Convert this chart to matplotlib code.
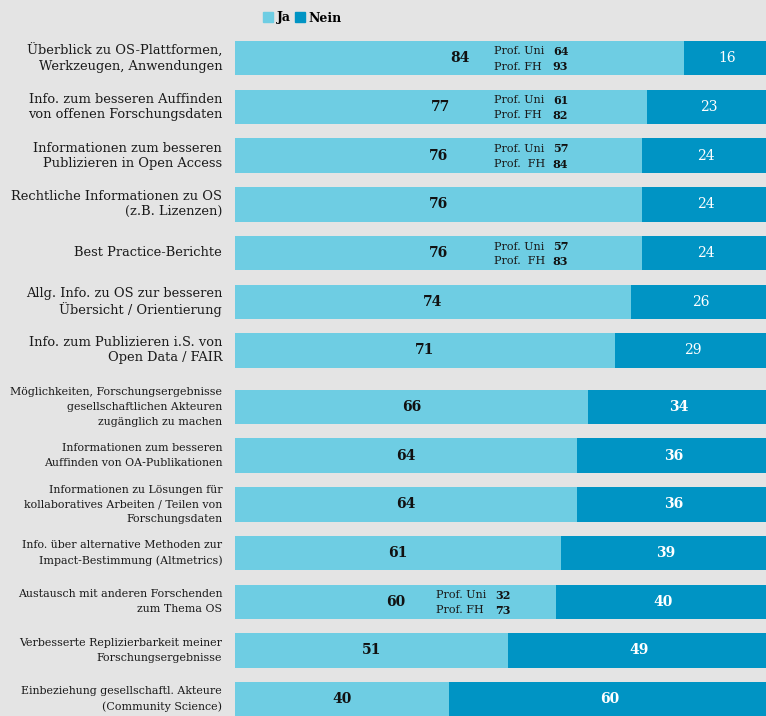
import matplotlib
matplotlib.use("Agg")
import matplotlib.pyplot as plt
from matplotlib.patches import Patch

plt.rcParams['font.family'] = 'DejaVu Serif'

# survey answers in percent
categories = [
    "Überblick zu OS-Plattformen,\nWerkzeugen, Anwendungen",
    "Info. zum besseren Auffinden\nvon offenen Forschungsdaten",
    "Informationen zum besseren\nPublizieren in Open Access",
    "Rechtliche Informationen zu OS\n(z.B. Lizenzen)",
    "Best Practice-Berichte",
    "Allg. Info. zu OS zur besseren\nÜbersicht / Orientierung",
    "Info. zum Publizieren i.S. von\nOpen Data / FAIR",
    "Möglichkeiten, Forschungsergebnisse\ngesellschaftlichen Akteuren\nzugänglich zu machen",
    "Informationen zum besseren\nAuffinden von OA-Publikationen",
    "Informationen zu Lösungen für\nkollaboratives Arbeiten / Teilen von\nForschungsdaten",
    "Info. über alternative Methoden zur\nImpact-Bestimmung (Altmetrics)",
    "Austausch mit anderen Forschenden\nzum Thema OS",
    "Verbesserte Replizierbarkeit meiner\nForschungsergebnisse",
    "Einbeziehung gesellschaftl. Akteure\n(Community Science)",
]
ja = [84, 77, 76, 76, 76, 74, 71, 66, 64, 64, 61, 60, 51, 40]
nein = [16, 23, 24, 24, 24, 26, 29, 34, 36, 36, 39, 40, 49, 60]

# breakdown by type of university (row index -> values)
prof_uni = {0: 64, 1: 61, 2: 57, 4: 57, 11: 32}
prof_fh = {0: 93, 1: 82, 2: 84, 4: 83, 11: 73}
fh_label = {0: "Prof. FH", 1: "Prof. FH", 2: "Prof.  FH", 4: "Prof.  FH", 11: "Prof. FH"}

c_ja = '#6ecde3'
c_nein = '#0094c4'
bg = '#e4e4e4'

fig = plt.figure(figsize=(7.66, 7.16), dpi=100)
fig.patch.set_facecolor(bg)
ax = fig.add_axes([0, 0, 1, 1])
ax.set_facecolor(bg)
ax.set_xlim(-235 / 5.35, 531 / 5.35)
ax.set_ylim(716, 0)
ax.axis('off')

# two blocks of rows, the second one set a bit lower and in smaller type
ypos = [58 + 48.75 * i for i in range(7)] + [407 + 48.7 * i for i in range(7)]
bar_h = 34.5

ax.barh(ypos, ja, height=bar_h, color=c_ja)
ax.barh(ypos, nein, left=ja, height=bar_h, color=c_nein)

for i, y in enumerate(ypos):
    first = i < 7
    ax.text(-2.4, y, categories[i], ha='right', va='center',
            fontsize=9.4 if first else 7.9, color='#1a1a1a',
            linespacing=1.2 if first else 1.6)
    ax.text(ja[i] / 2, y, str(ja[i]), ha='center', va='center',
            fontsize=10, fontweight='bold', color='#111111')
    ax.text(ja[i] + nein[i] / 2, y, str(nein[i]), ha='center', va='center',
            fontsize=10, fontweight='normal' if first else 'bold', color='white')
    if i in prof_uni:
        x_lab = 48.4 if first else 37.6
        x_val = x_lab + 11.0
        ax.text(x_lab, y - 6.5, "Prof. Uni", ha='left', va='center', fontsize=8.0, color='#1a1a1a')
        ax.text(x_lab, y + 8.5, fh_label[i], ha='left', va='center', fontsize=8.0, color='#1a1a1a')
        ax.text(x_val, y - 6.5, str(prof_uni[i]), ha='left', va='center',
                fontsize=8.0, fontweight='bold', color='#111111')
        ax.text(x_val, y + 8.5, str(prof_fh[i]), ha='left', va='center',
                fontsize=8.0, fontweight='bold', color='#111111')

handles = [Patch(color=c_ja, label='Ja'), Patch(color=c_nein, label='Nein')]
fig.legend(handles=handles, loc='center left', bbox_to_anchor=(252 / 766, 1 - 18 / 716),
           ncol=2, frameon=False, handlelength=0.8, handleheight=0.8, handletextpad=0.3,
           columnspacing=0.3, prop={'size': 9, 'weight': 'bold'})

fig.savefig('out.png', dpi=100, facecolor=bg)
